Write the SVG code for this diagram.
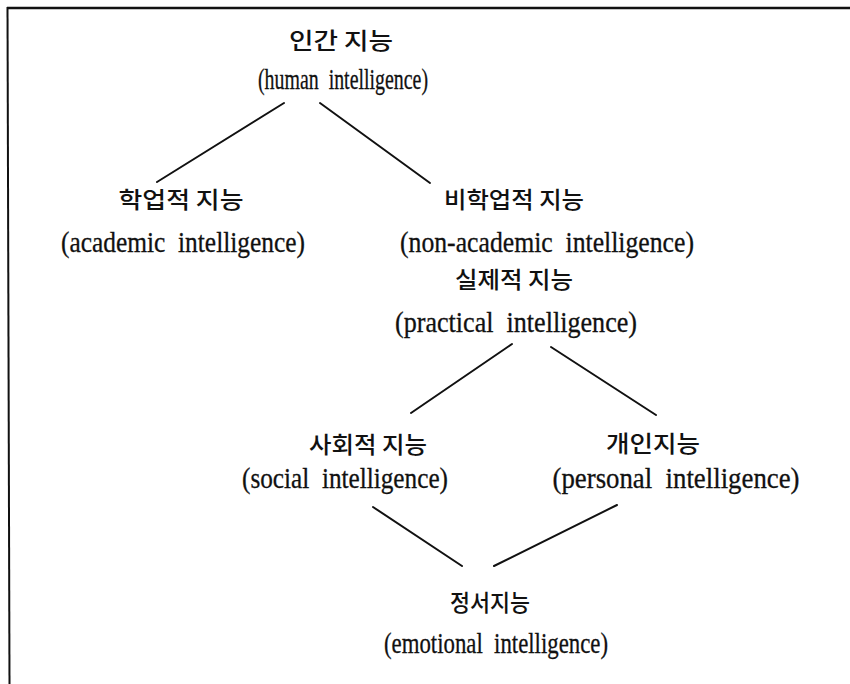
<svg xmlns="http://www.w3.org/2000/svg" width="850" height="684" viewBox="0 0 850 684">
<style>
.kr{font-family:"Noto Sans CJK KR","Noto Sans",sans-serif;font-size:23px;font-weight:500;fill:#111;text-anchor:middle}
.en{font-family:"Liberation Serif","Times New Roman",serif;font-size:29px;fill:#111;stroke:#111;stroke-width:0.3;text-anchor:middle}
.ln{stroke:#111;stroke-width:2;fill:none;stroke-linecap:round}
</style>
<rect width="850" height="684" fill="#fff"/>
<g id="frame">
<path d="M7 8 L850 8" stroke="#111" stroke-width="2.5"/>
<path d="M7.5 7 L9.5 684" stroke="#111" stroke-width="2"/>
</g>
<g id="connectors">
<line class="ln" x1="284" y1="103" x2="157" y2="182"/>
<line class="ln" x1="320" y1="103" x2="430" y2="183"/>
<line class="ln" x1="512" y1="344" x2="411" y2="413"/>
<line class="ln" x1="551" y1="347" x2="656" y2="415"/>
<line class="ln" x1="373" y1="507" x2="462" y2="566"/>
<line class="ln" x1="617" y1="505" x2="494" y2="566"/>
</g>
<g id="human">
<text class="kr" x="341" y="49" textLength="104" lengthAdjust="spacingAndGlyphs">인간&#160;지능</text>
<text class="en" x="343" y="89" textLength="170" lengthAdjust="spacingAndGlyphs">(human&#160;&#160;intelligence)</text>
</g>
<g id="academic">
<text class="kr" x="181" y="208" textLength="125" lengthAdjust="spacingAndGlyphs">학업적&#160;지능</text>
<text class="en" x="183" y="252" textLength="244" lengthAdjust="spacingAndGlyphs">(academic&#160;&#160;intelligence)</text>
</g>
<g id="nonacademic">
<text class="kr" x="514" y="208" textLength="140" lengthAdjust="spacingAndGlyphs">비학업적&#160;지능</text>
<text class="en" x="547" y="252" textLength="294" lengthAdjust="spacingAndGlyphs">(non-academic&#160;&#160;intelligence)</text>
</g>
<g id="practical">
<text class="kr" x="514" y="288" textLength="118" lengthAdjust="spacingAndGlyphs">실제적&#160;지능</text>
<text class="en" x="516" y="332" textLength="242" lengthAdjust="spacingAndGlyphs">(practical&#160;&#160;intelligence)</text>
</g>
<g id="social">
<text class="kr" x="368" y="453" textLength="118" lengthAdjust="spacingAndGlyphs">사회적&#160;지능</text>
<text class="en" x="345" y="488" textLength="206" lengthAdjust="spacingAndGlyphs">(social&#160;&#160;intelligence)</text>
</g>
<g id="personal">
<text class="kr" x="653" y="452" textLength="94" lengthAdjust="spacingAndGlyphs">개인지능</text>
<text class="en" x="676" y="488" textLength="247" lengthAdjust="spacingAndGlyphs">(personal&#160;&#160;intelligence)</text>
</g>
<g id="emotional">
<text class="kr" x="490" y="611" textLength="80" lengthAdjust="spacingAndGlyphs">정서지능</text>
<text class="en" x="496" y="653" textLength="224" lengthAdjust="spacingAndGlyphs">(emotional&#160;&#160;intelligence)</text>
</g>
</svg>
